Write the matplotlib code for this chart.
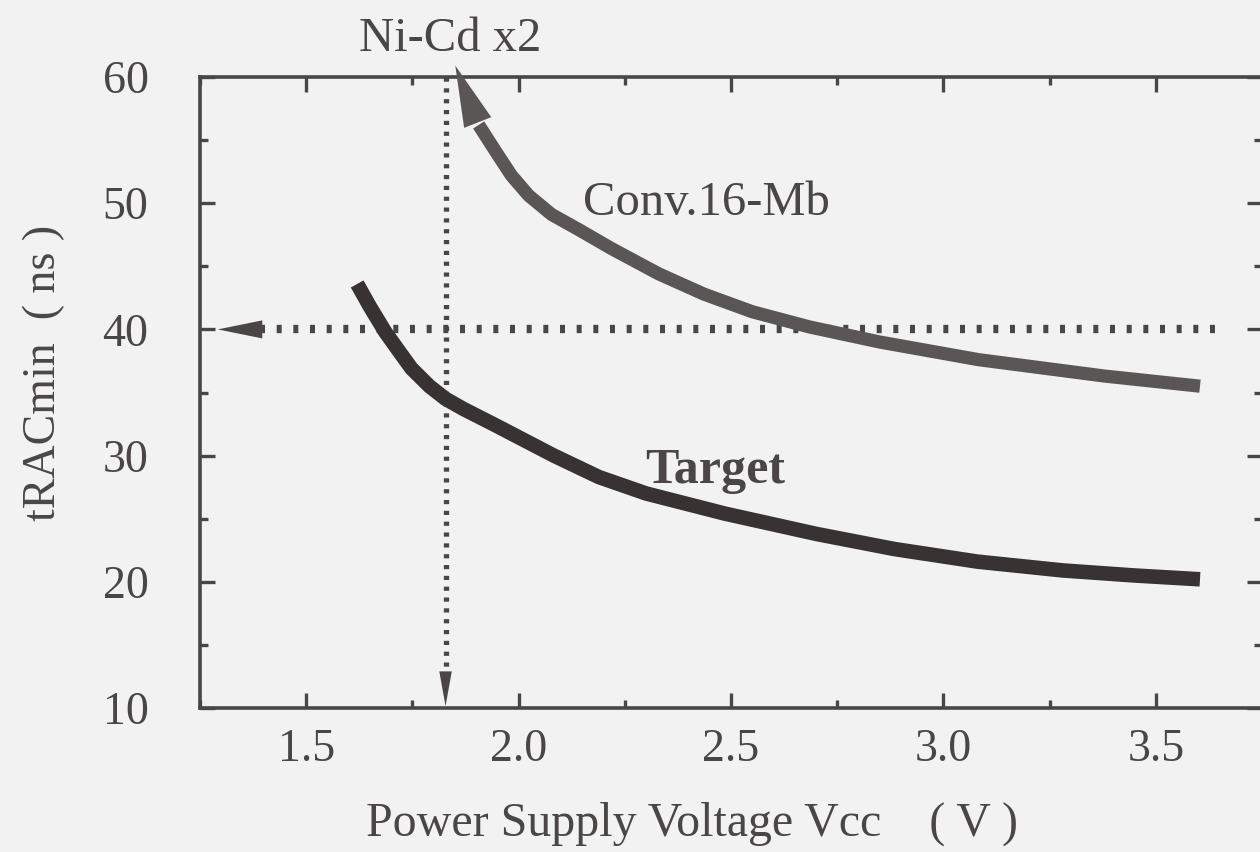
import matplotlib
matplotlib.use("Agg")
import matplotlib.pyplot as plt
from matplotlib.ticker import MultipleLocator, FixedLocator

# ---------------- data ----------------
conv_x = [1.906, 1.946, 1.983, 2.024, 2.078, 2.142, 2.219, 2.33, 2.436, 2.55, 2.684, 2.85, 3.083, 3.38, 3.604]
conv_y = [56.2, 54.1, 52.2, 50.6, 49.1, 47.9, 46.4, 44.4, 42.8, 41.4, 40.2, 39.0, 37.6, 36.3, 35.5]
conv_tip = (1.851, 60.9)

target_x = [1.620, 1.650, 1.686, 1.720, 1.748, 1.790, 1.828, 1.870, 1.946, 2.083,
            2.189, 2.30, 2.486, 2.70, 2.884, 3.08, 3.281, 3.45, 3.604]
target_y = [43.6, 41.8, 39.8, 38.2, 36.9, 35.5, 34.5, 33.7, 32.4, 30.0,
            28.3, 27.0, 25.4, 23.8, 22.6, 21.6, 20.9, 20.5, 20.2]

nicd_v = 1.828          # vertical reference (Ni-Cd x2)
nicd_arrow_tip = 10.15
spec_ns = 40            # horizontal reference
spec_x_tip = 1.292
spec_x_end = 3.646

xticks = [1.5, 2.0, 2.5, 3.0, 3.5]
xtick_labels = ["1.5", "2.0", "2.5", "3.0", "3.5"]
yticks = [10, 20, 30, 40, 50, 60]
ytick_labels = ["10", "20", "30", "40", "50", "60"]
xlim = (1.25, 3.75)
ylim = (10, 60)

# ---------------- style ----------------
bg = "#f2f2f2"
ink = "#4a4646"
target_col = "#383232"
conv_col = "#5a5656"

plt.rcParams["font.family"] = ["Liberation Serif", "DejaVu Serif"]
plt.rcParams["lines.scale_dashes"] = False

fig = plt.figure(figsize=(12.6, 8.52), dpi=100, facecolor=bg)
ax = fig.add_axes([200 / 1260, 144 / 852, 1062 / 1260, 631 / 852])
ax.set_facecolor(bg)
ax.set_xlim(*xlim)
ax.set_ylim(*ylim)

# curves
ax.plot(target_x, target_y, color=target_col, lw=10.5, solid_capstyle="butt",
        solid_joinstyle="round", zorder=3)
ax.plot(conv_x, conv_y, color=conv_col, lw=9.5, solid_capstyle="butt",
        solid_joinstyle="round", zorder=3)
ax.annotate("", xy=conv_tip, xytext=(conv_x[0], conv_y[0]),
            arrowprops=dict(arrowstyle="-|>,head_length=44,head_width=10.5",
                            mutation_scale=1, lw=0, color=conv_col,
                            shrinkA=0, shrinkB=0),
            annotation_clip=False, zorder=4)

# horizontal dotted reference with arrow to the axis
ax.plot([spec_x_tip + 0.1, spec_x_end], [spec_ns, spec_ns], color=ink, lw=6,
        linestyle=(0, (3.6, 8.4)), dash_capstyle="butt", zorder=2)
ax.annotate("", xy=(spec_x_tip, spec_ns), xytext=(spec_x_end, spec_ns),
            arrowprops=dict(arrowstyle="-|>,head_length=32,head_width=6.5",
                            mutation_scale=1, lw=0, color=ink,
                            shrinkA=0, shrinkB=0), zorder=2)

# vertical dotted reference with arrow to the axis
ax.plot([nicd_v, nicd_v], [ylim[1], nicd_arrow_tip + 2.0], color=ink, lw=3.8,
        linestyle=(0, (3.0, 4.8)), dash_capstyle="butt", zorder=2)
ax.annotate("", xy=(nicd_v, nicd_arrow_tip), xytext=(nicd_v, ylim[1]),
            arrowprops=dict(arrowstyle="-|>,head_length=25,head_width=4.5",
                            mutation_scale=1, lw=0, color=ink,
                            shrinkA=0, shrinkB=0), zorder=2)

# axes frame and ticks
for s in ax.spines.values():
    s.set_color(ink)
    s.set_linewidth(2.6)
ax.xaxis.set_major_locator(FixedLocator(xticks))
ax.set_xticklabels(xtick_labels)
ax.yaxis.set_major_locator(FixedLocator(yticks))
ax.set_yticklabels(ytick_labels)
ax.xaxis.set_minor_locator(MultipleLocator(0.25))
ax.yaxis.set_minor_locator(MultipleLocator(5))
ax.tick_params(which="both", direction="in", top=True, right=True,
               color=ink, labelcolor=ink, width=2.4, labelsize=33)
ax.tick_params(which="major", length=11)
ax.tick_params(which="minor", length=6)
ax.tick_params(axis="x", which="major", pad=15)
ax.tick_params(axis="y", which="major", pad=37)

# texts
ax.text(2.151, 49.05, "Conv.16-Mb", fontsize=35, color=ink, ha="left", va="baseline")
ax.text(2.297, 27.8, "Target", fontsize=36, fontweight="bold", color=ink,
        ha="left", va="baseline")
fig.text(450 / 1260, 1 - 51 / 852, "Ni-Cd x2", fontsize=35, color=ink,
         ha="center", va="baseline")
fig.text(692 / 1260, 1 - 836 / 852, "Power Supply Voltage Vcc    ( V )", fontsize=34.5,
         color=ink, ha="center", va="baseline")
fig.text(44 / 1260, 1 - 373 / 852, "tRACmin  ( ns )", fontsize=33, color=ink,
         rotation=90, ha="center", va="center")

fig.savefig("out.png", dpi=100, facecolor=bg)
